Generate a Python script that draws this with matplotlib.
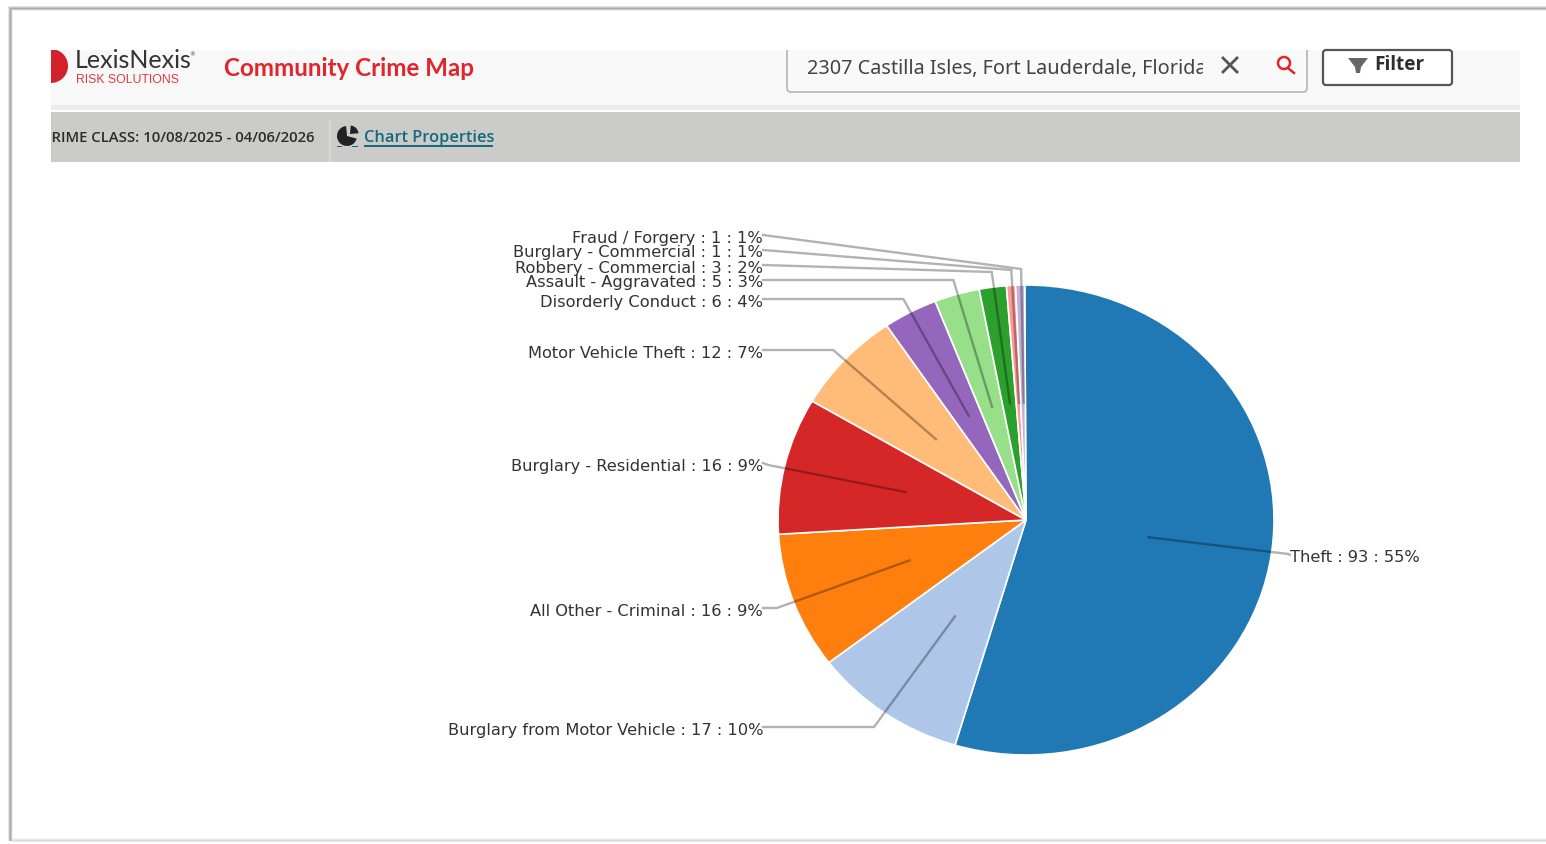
import matplotlib.pyplot as plt
from matplotlib.patches import Circle, FancyBboxPatch, Polygon, Rectangle, Wedge
import numpy as np

plt.rcParams.update({"font.family": "DejaVu Sans"})

categories = ["Theft", "Burglary from Motor Vehicle", "All Other - Criminal",
              "Burglary - Residential", "Motor Vehicle Theft", "Disorderly Conduct",
              "Assault - Aggravated", "Robbery - Commercial", "Burglary - Commercial",
              "Fraud / Forgery"]
counts = [93, 17, 16, 16, 12, 6, 5, 3, 1, 1]
colors = ["#2079b5", "#aec7e8", "#ff7f0e", "#d62728", "#ffbb78",
          "#9467bd", "#98df8a", "#2ca02c", "#ff9896", "#c5b0d5"]

# pixel y of each leader line, small slices are pushed apart
first_y = [555, 727, 608, 463, 350, 299, 280, 265, 250, 235]
elbow_y = [554, 727, 608, 465, 350, 299, 280, 272, 270, 269]

W, H = 1546, 844
cx, cy, rx, ry = 1026, 520, 248, 235

fig = plt.figure(figsize=(W / 100, H / 100), dpi=100)


def pixel_axes(zorder):
    a = fig.add_axes([0, 0, 1, 1], zorder=zorder)
    a.set_xlim(0, W)
    a.set_ylim(H, 0)
    a.axis("off")
    a.patch.set_alpha(0)
    return a


ui = pixel_axes(0)


def box(x0, y0, x1, y1, color, z=1):
    ui.add_patch(Rectangle((x0, y0), x1 - x0, y1 - y0, fc=color, ec="none", zorder=z))


# window frame with its soft shadow
for off, shade in [(0, "#e4e4e4"), (1, "#c4c4c4"), (2, "#a8a8a8"), (3, "#c8c8c8"), (4, "#f0f0f0")]:
    box(8 + off, 6 + off, 9 + off, 841, shade)
    box(8 + off, 6 + off, W, 7 + off, shade)
for off, shade in [(0, "#f6f6f6"), (1, "#e8e8e8"), (2, "#dcdcdc"), (3, "#e8e8e8")]:
    box(12, 838 + off, W, 839 + off, shade)

# header strip
box(51, 50, 1520, 105, "#f8f8f8")
box(51, 105, 1520, 110, "#ececec")
box(51, 112, 1520, 162, "#cbcbc9")
box(329, 120, 331, 162, "#d8d8d6", z=2)

clip = Rectangle((51, 50), 1469, 112, transform=ui.transData)

logo = Circle((51, 66), 17, fc="#d3202a", ec="none", zorder=3)
ui.add_patch(logo)
logo.set_clip_path(clip)
ui.text(75, 60, "LexisNexis", fontsize=18, family="Lato", color="#333333", va="center", zorder=3)
ui.text(189, 55, "®", fontsize=4, color="#333333", va="center", zorder=3)
ui.text(76, 80, "RISK SOLUTIONS", fontsize=8.8, family="Liberation Sans", color="#e0393e", va="center", zorder=3)
ui.text(224, 69, "Community Crime Map", fontsize=17.4, family="Lato", weight="bold",
        color="#e0262c", va="center", zorder=3)

t = ui.text(315, 137.5, "CRIME CLASS: 10/08/2025 - 04/06/2026", fontsize=10.7, family="Open Sans",
            weight="semibold", color="#2b2b2b", va="center", ha="right", zorder=3, clip_on=True)
t.set_clip_path(clip)
ui.text(364, 138, "Chart Properties", fontsize=11.8, family="Open Sans", weight="semibold",
        color="#14697a", va="center", zorder=3)
box(364, 145, 493, 146.5, "#14697a", z=3)

# small pie icon beside the link, y runs downward here so the angles are mirrored
ui.add_patch(Wedge((347, 136), 10, 15, 265, fc="#222222", ec="none", zorder=3))
ui.add_patch(Wedge((350, 134), 8.5, -85, -5, fc="#222222", ec="none", zorder=3))
box(337, 145.5, 342, 147, "#14697a", z=3)
box(352, 145.5, 358, 147, "#14697a", z=3)

# search box, its top edge runs off the strip
search = FancyBboxPatch((787, 40), 520, 52, boxstyle="round,pad=0,rounding_size=4",
                        fc="#f9f9f9", ec="#b5b5b5", lw=1.2, zorder=2)
ui.add_patch(search)
search.set_clip_path(clip)
addr = ui.text(807, 69, "2307 Castilla Isles, Fort Lauderdale, Florida", fontsize=14.35, family="Noto Sans",
               color="#444444", va="center", zorder=3, clip_on=True)
addr.set_clip_path(Rectangle((787, 50), 416, 42, transform=ui.transData))
ui.plot([1223, 1237], [58, 72], color="#555555", lw=2, zorder=3)
ui.plot([1237, 1223], [58, 72], color="#555555", lw=2, zorder=3)
ui.add_patch(Circle((1284, 63), 6, fc="none", ec="#e0262c", lw=1.8, zorder=3))
ui.plot([1288, 1294], [68, 73], color="#e0262c", lw=1.8, zorder=3)

ui.add_patch(FancyBboxPatch((1323, 50), 129, 35, boxstyle="round,pad=0,rounding_size=3",
                            fc="white", ec="#555555", lw=1.6, zorder=3))
ui.add_patch(Polygon([(1348, 58), (1368, 58), (1361, 67), (1360, 73), (1356, 73), (1355, 67)],
                     fc="#666666", ec="none", zorder=4))
ui.text(1374, 65.5, "Filter", fontsize=13.6, family="Open Sans", weight="bold", color="#2e2e2e",
        va="center", zorder=4)

# pie axes span the slightly stretched ellipse
pie_ax = fig.add_axes([(cx - rx) / W, 1 - (cy + ry) / H, 2 * rx / W, 2 * ry / H], zorder=1)
pie_ax.pie(counts, colors=colors, startangle=90.3, counterclock=False,
           wedgeprops={"edgecolor": "white", "linewidth": 1.2})
pie_ax.set_aspect("auto")
pie_ax.set_xlim(-1, 1)
pie_ax.set_ylim(-1, 1)

ov = pixel_axes(2)
total = sum(counts)
mids = (np.cumsum(counts) - np.array(counts) / 2) / total * 2 * np.pi

for i, name in enumerate(categories):
    s, c = np.sin(mids[i]), np.cos(mids[i])
    inner = (cx + 0.5 * rx * s, cy - 0.5 * ry * c)
    elbow_x = cx + 1.07 * rx * s
    side = 1 if s > 0 else -1
    start_x = 1290 if side > 0 else 763
    ov.plot([start_x, elbow_x, inner[0]], [first_y[i], elbow_y[i], inner[1]],
            color="black", alpha=0.3, lw=1.7, solid_joinstyle="miter")
    pct = round(100 * counts[i] / total)
    ov.text(start_x, first_y[i] + 3, f"{name} : {counts[i]} : {pct}%", fontsize=11.7, color="#333333",
            ha="left" if side > 0 else "right", va="center")

fig.savefig("out.png", dpi=100)
